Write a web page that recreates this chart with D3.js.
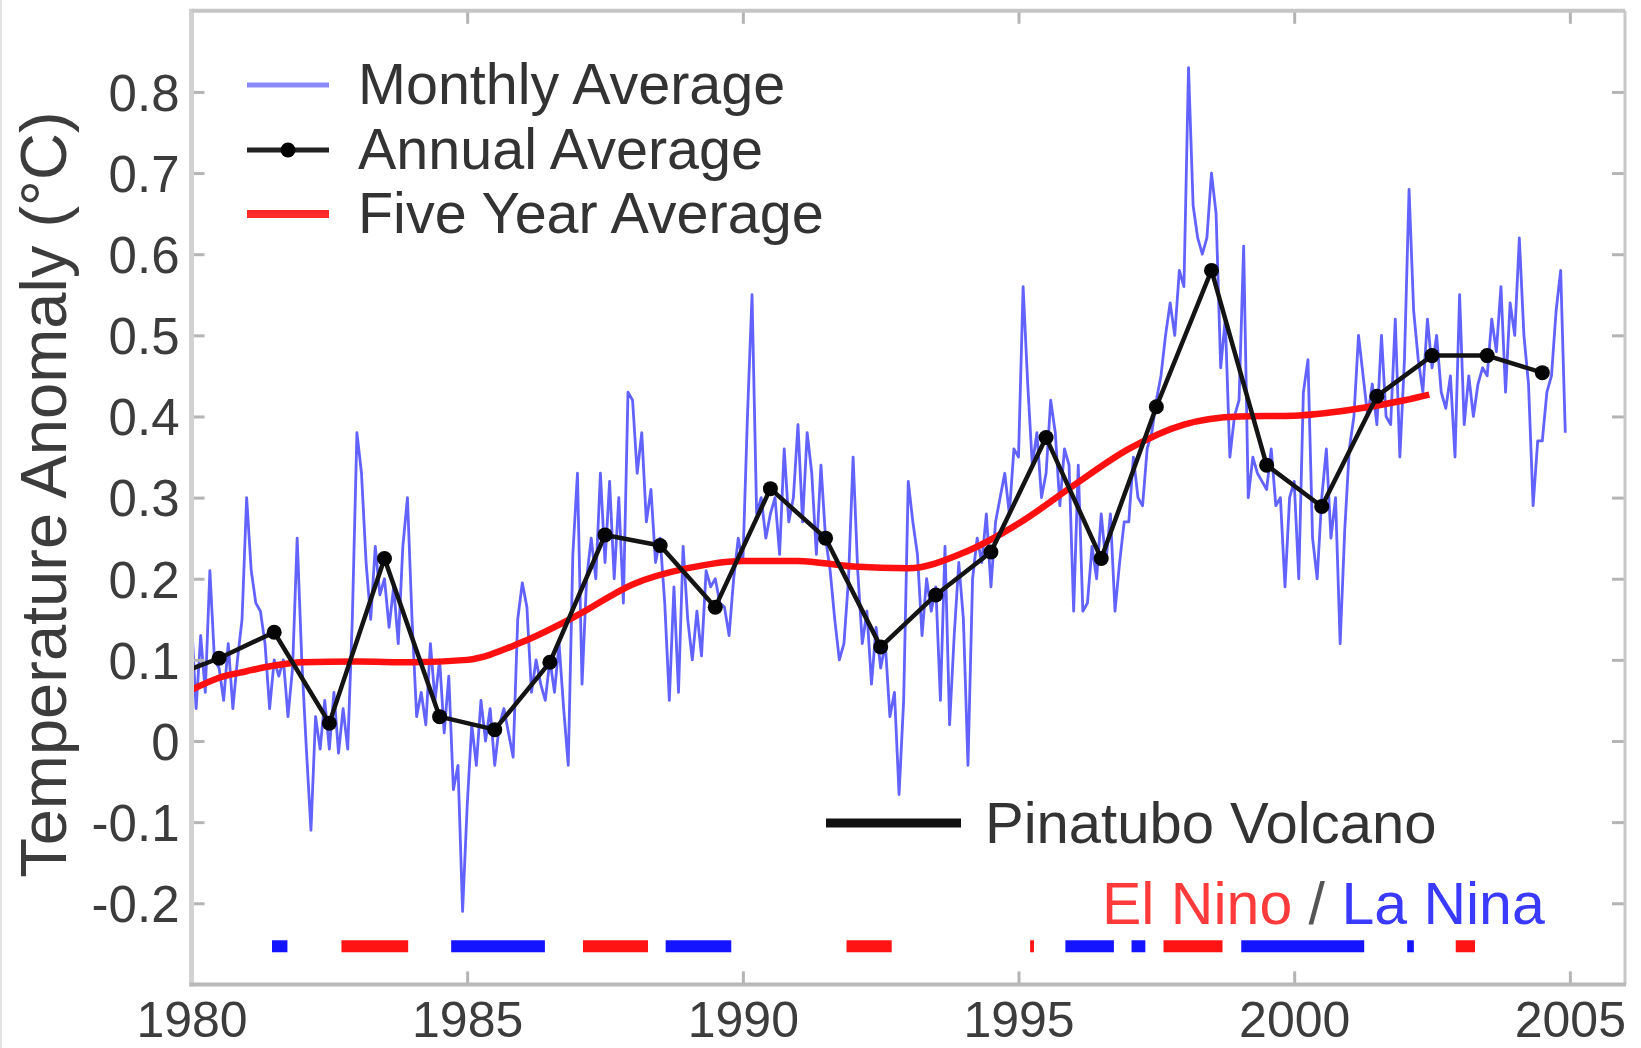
<!DOCTYPE html>
<html>
<head>
<meta charset="utf-8">
<script src="https://cdn.jsdelivr.net/npm/d3@7"></script>
<style>
  html, body { margin: 0; padding: 0; background: #fff; }
  svg { display: block; }
  text { font-family: "Liberation Sans", Arial, Helvetica, sans-serif; }
</style>
</head>
<body>
<svg id="chart" width="1641" height="1048"></svg>
<script>
// ---------------- DATA ----------------
const monthlyStart = 1980;
const monthlyAnomaly = [
  // 1980
  0.15, 0.04, 0.13, 0.06, 0.21, 0.10, 0.09, 0.05, 0.12, 0.04, 0.10, 0.15,
  // 1981
  0.30, 0.21, 0.17, 0.16, 0.12, 0.04, 0.10, 0.08, 0.10, 0.03, 0.09, 0.25,
  // 1982
  0.10, -0.01, -0.11, 0.03, -0.01, 0.05, -0.01, 0.06, -0.015, 0.04, -0.01, 0.15,
  // 1983
  0.38, 0.33, 0.22, 0.15, 0.24, 0.18, 0.20, 0.14, 0.19, 0.12, 0.24, 0.30,
  // 1984
  0.15, 0.03, 0.06, 0.02, 0.12, 0.05, 0.10, 0.01, 0.08, -0.06, -0.03, -0.21,
  // 1985
  -0.08, 0.02, -0.03, 0.05, 0.00, 0.04, -0.03, 0.02, 0.04, 0.01, -0.02, 0.15,
  // 1986
  0.195, 0.165, 0.06, 0.10, 0.07, 0.05, 0.10, 0.06, 0.12, 0.04, -0.03, 0.23,
  // 1987
  0.33, 0.07, 0.20, 0.25, 0.20, 0.33, 0.22, 0.32, 0.20, 0.30, 0.17, 0.43,
  // 1988
  0.42, 0.33, 0.38, 0.27, 0.31, 0.22, 0.25, 0.17, 0.05, 0.19, 0.06, 0.24,
  // 1989
  0.15, 0.10, 0.16, 0.105, 0.21, 0.19, 0.20, 0.17, 0.165, 0.13, 0.20, 0.25,
  // 1990
  0.22, 0.40, 0.55, 0.28, 0.30, 0.25, 0.28, 0.30, 0.23, 0.36, 0.27, 0.30,
  // 1991
  0.39, 0.27, 0.38, 0.33, 0.23, 0.34, 0.25, 0.21, 0.15, 0.10, 0.12, 0.20,
  // 1992
  0.35, 0.21, 0.12, 0.16, 0.07, 0.14, 0.09, 0.12, 0.03, 0.06, -0.066, 0.05,
  // 1993
  0.32, 0.27, 0.23, 0.13, 0.20, 0.16, 0.19, 0.05, 0.24, 0.02, 0.13, 0.22,
  // 1994
  0.15, -0.03, 0.20, 0.25, 0.22, 0.28, 0.19, 0.27, 0.30, 0.33, 0.28, 0.36,
  // 1995
  0.35, 0.56, 0.44, 0.34, 0.38, 0.30, 0.33, 0.42, 0.38, 0.29, 0.36, 0.34,
  // 1996
  0.16, 0.34, 0.16, 0.17, 0.24, 0.20, 0.28, 0.22, 0.28, 0.16, 0.22, 0.27,
  // 1997
  0.27, 0.35, 0.30, 0.29, 0.36, 0.38, 0.42, 0.45, 0.50, 0.54, 0.50, 0.58,
  // 1998
  0.56, 0.83, 0.66, 0.62, 0.60, 0.62, 0.70, 0.65, 0.46, 0.52, 0.35, 0.40,
  // 1999
  0.42, 0.61, 0.30, 0.35, 0.33, 0.32, 0.31, 0.36, 0.29, 0.30, 0.19, 0.30,
  // 2000
  0.32, 0.20, 0.43, 0.47, 0.25, 0.20, 0.30, 0.36, 0.25, 0.30, 0.12, 0.26,
  // 2001
  0.36, 0.40, 0.50, 0.45, 0.40, 0.44, 0.39, 0.50, 0.40, 0.39, 0.52, 0.35,
  // 2002
  0.47, 0.68, 0.53, 0.47, 0.43, 0.52, 0.46, 0.50, 0.43, 0.41, 0.45, 0.35,
  // 2003
  0.55, 0.39, 0.45, 0.40, 0.44, 0.46, 0.45, 0.52, 0.48, 0.56, 0.43, 0.54,
  // 2004
  0.50, 0.62, 0.50, 0.44, 0.29, 0.37, 0.37, 0.43, 0.45, 0.53, 0.58, 0.38
];

const annualYears = [1979, 1980, 1981, 1982, 1983, 1984, 1985, 1986, 1987, 1988, 1989,
  1990, 1991, 1992, 1993, 1994, 1995, 1996, 1997, 1998, 1999, 2000, 2001, 2002, 2003, 2004];
const annualValues = [0.076, 0.102, 0.134, 0.022, 0.225, 0.030, 0.014, 0.097, 0.254, 0.241, 0.165,
  0.311, 0.250, 0.116, 0.180, 0.233, 0.374, 0.225, 0.412, 0.580, 0.340, 0.289, 0.425, 0.475, 0.475, 0.454];

const fiveYearX = [1980, 1980.5, 1981, 1981.5, 1982, 1983, 1984, 1985, 1986, 1987, 1988, 1989,
  1990, 1991, 1992, 1993, 1994, 1995, 1996, 1997, 1998, 1999, 2000, 2001, 2002, 2002.45];
const fiveYearY = [0.063, 0.078, 0.086, 0.093, 0.097, 0.098, 0.097, 0.100, 0.122, 0.155, 0.193, 0.213,
  0.222, 0.222, 0.215, 0.213, 0.232, 0.268, 0.315, 0.360, 0.390, 0.400, 0.401, 0.408, 0.420, 0.427];

const elNinoPeriods = [[1982.72, 1983.93], [1987.1, 1988.28], [1991.88, 1992.7], [1995.21, 1995.28],
  [1997.63, 1998.7], [2002.93, 2003.28]];
const laNinaPeriods = [[1981.46, 1981.74], [1984.71, 1986.41], [1988.6, 1989.79], [1995.85, 1996.73],
  [1997.05, 1997.3], [1999.04, 2001.27], [2002.05, 2002.17]];
const ensoLevel = -0.253;

const xTicks = [1980, 1985, 1990, 1995, 2000, 2005];
const xTickLabels = ["1980", "1985", "1990", "1995", "2000", "2005"];
const yTicks = [-0.2, -0.1, 0, 0.1, 0.2, 0.3, 0.4, 0.5, 0.6, 0.7, 0.8];
const yTickLabels = ["-0.2", "-0.1", "0", "0.1", "0.2", "0.3", "0.4", "0.5", "0.6", "0.7", "0.8"];

const legendLabels = ["Monthly Average", "Annual Average", "Five Year Average"];
const yTitle = "Temperature Anomaly (\u00B0C)";
const volcanoLabel = "Pinatubo Volcano";

// ---------------- LAYOUT ----------------
(function () {
const svg = d3.select("#chart");
const W = 1641, H = 1048;
const pL = 191.5, pR = 1625, pT = 10.8, pB = 984.4;

const x = d3.scaleLinear().domain([1980, 2006]).range([pL, pR]);
const y = d3.scaleLinear().domain([-0.3, 0.9]).range([pB, pT]);

svg.append("rect").attr("width", W).attr("height", H).attr("fill", "#fff");
svg.append("line").attr("x1", 1).attr("x2", 1).attr("y1", 0).attr("y2", H)
  .attr("stroke", "#e4e4e4").attr("stroke-width", 2);

svg.append("clipPath").attr("id", "plotclip")
  .append("rect").attr("x", pL).attr("y", pT).attr("width", pR - pL).attr("height", pB - pT);

const plot = svg.append("g").attr("clip-path", "url(#plotclip)");

// ENSO bars
plot.selectAll("rect.elnino").data(elNinoPeriods).join("rect")
  .attr("class", "elnino")
  .attr("x", d => x(d[0])).attr("width", d => x(d[1]) - x(d[0]))
  .attr("y", y(ensoLevel) - 6).attr("height", 12)
  .attr("fill", "#ff1414");
plot.selectAll("rect.lanina").data(laNinaPeriods).join("rect")
  .attr("class", "lanina")
  .attr("x", d => x(d[0])).attr("width", d => x(d[1]) - x(d[0]))
  .attr("y", y(ensoLevel) - 6).attr("height", 12)
  .attr("fill", "#1414ff");

// Monthly line
const monthlyPts = monthlyAnomaly.map((v, i) => [monthlyStart + i / 12, v]);
plot.append("path").datum(monthlyPts)
  .attr("fill", "none").attr("stroke", "#6262ff").attr("stroke-width", 2.8)
  .attr("stroke-linejoin", "round")
  .attr("d", d3.line().x(d => x(d[0])).y(d => y(d[1])));

// Five-year average
const fivePts = fiveYearX.map((t, i) => [t, fiveYearY[i]]);
plot.append("path").datum(fivePts)
  .attr("fill", "none").attr("stroke", "#ff1010").attr("stroke-width", 6.5)
  .attr("d", d3.line().curve(d3.curveMonotoneX).x(d => x(d[0])).y(d => y(d[1])));

// Annual average
const annualPts = annualYears.map((yr, i) => [yr + 0.5, annualValues[i]]);
plot.append("path").datum(annualPts)
  .attr("fill", "none").attr("stroke", "#141414").attr("stroke-width", 4.5)
  .attr("stroke-linejoin", "round")
  .attr("d", d3.line().x(d => x(d[0])).y(d => y(d[1])));
plot.selectAll("circle.ann").data(annualPts).join("circle")
  .attr("class", "ann")
  .attr("cx", d => x(d[0])).attr("cy", d => y(d[1])).attr("r", 7.5)
  .attr("fill", "#050505");

// ---------------- AXES ----------------
const tickColor = "#b4b4b4";
const labelColor = "#3c3c3c";
const tickLen = 13;

const gLeft = svg.append("g").attr("transform", `translate(${pL},0)`)
  .call(d3.axisLeft(y).tickValues(yTicks).tickSize(-tickLen).tickPadding(12)
    .tickFormat((d, i) => yTickLabels[i]));
const gRight = svg.append("g").attr("transform", `translate(${pR},0)`)
  .call(d3.axisRight(y).tickValues(yTicks).tickSize(-tickLen).tickFormat(""));
const gBottom = svg.append("g").attr("transform", `translate(0,${pB})`)
  .call(d3.axisBottom(x).tickValues(xTicks).tickSize(-tickLen).tickPadding(17)
    .tickFormat((d, i) => xTickLabels[i]));
const gTop = svg.append("g").attr("transform", `translate(0,${pT})`)
  .call(d3.axisTop(x).tickValues(xTicks).tickSize(-tickLen).tickFormat(""));

[gLeft, gRight, gBottom, gTop].forEach(g => {
  g.select(".domain").remove();
  g.selectAll(".tick line").attr("stroke", tickColor).attr("stroke-width", 3);
  g.selectAll(".tick text").attr("fill", labelColor)
    .style("font-family", "'Liberation Sans', Arial, sans-serif");
});
gLeft.selectAll(".tick text").style("font-size", "51px").attr("dy", "0.36em");
gBottom.selectAll(".tick text").style("font-size", "50px").attr("dy", "0.71em");

// frame
svg.append("line").attr("x1", pL).attr("x2", pL).attr("y1", pT - 2).attr("y2", pB + 2)
  .attr("stroke", "#d2d2d2").attr("stroke-width", 5);
svg.append("line").attr("x1", pL).attr("x2", pR).attr("y1", pT).attr("y2", pT)
  .attr("stroke", "#c6c6c6").attr("stroke-width", 4);
svg.append("line").attr("x1", pR).attr("x2", pR).attr("y1", pT).attr("y2", pB)
  .attr("stroke", "#c8c8c8").attr("stroke-width", 3);
svg.append("line").attr("x1", pL - 2).attr("x2", pR + 1).attr("y1", pB).attr("y2", pB)
  .attr("stroke", "#b8b8b8").attr("stroke-width", 4);

// y title
svg.append("text")
  .attr("transform", `translate(66,${(y(0.9) + y(-0.3)) / 2 - 3}) rotate(-90)`)
  .attr("text-anchor", "middle")
  .attr("fill", labelColor)
  .style("font-size", "65px")
  .text(yTitle);

// ---------------- LEGEND ----------------
const legX0 = 247, legX1 = 329, legTextX = 358;
const legRows = [85, 150, 214];
const legG = svg.append("g");
legG.append("line").attr("x1", legX0).attr("x2", legX1).attr("y1", legRows[0]).attr("y2", legRows[0])
  .attr("stroke", "#8a8aff").attr("stroke-width", 5);
legG.append("line").attr("x1", legX0).attr("x2", legX1).attr("y1", legRows[1]).attr("y2", legRows[1])
  .attr("stroke", "#222").attr("stroke-width", 5);
legG.append("circle").attr("cx", (legX0 + legX1) / 2).attr("cy", legRows[1]).attr("r", 7.5).attr("fill", "#000");
legG.append("line").attr("x1", legX0).attr("x2", legX1).attr("y1", legRows[2]).attr("y2", legRows[2])
  .attr("stroke", "#ff2a2a").attr("stroke-width", 8);
legG.selectAll("text").data(legendLabels).join("text")
  .attr("x", legTextX).attr("y", (d, i) => legRows[i] + 19)
  .attr("fill", "#333").style("font-size", "57.5px")
  .text(d => d);

// Pinatubo annotation
svg.append("line").attr("x1", 826).attr("x2", 961).attr("y1", 823).attr("y2", 823)
  .attr("stroke", "#111").attr("stroke-width", 9);
svg.append("text").attr("x", 985).attr("y", 843).attr("fill", "#333")
  .style("font-size", "58px").text(volcanoLabel);

// El Nino / La Nina label
const enso = svg.append("text").attr("x", 1102).attr("y", 924).style("font-size", "59px");
enso.append("tspan").attr("fill", "#ff3a3a").text("El Nino");
enso.append("tspan").attr("fill", "#555").text(" / ");
enso.append("tspan").attr("fill", "#3a3aff").text("La Nina");
})();
</script>
</body>
</html>
